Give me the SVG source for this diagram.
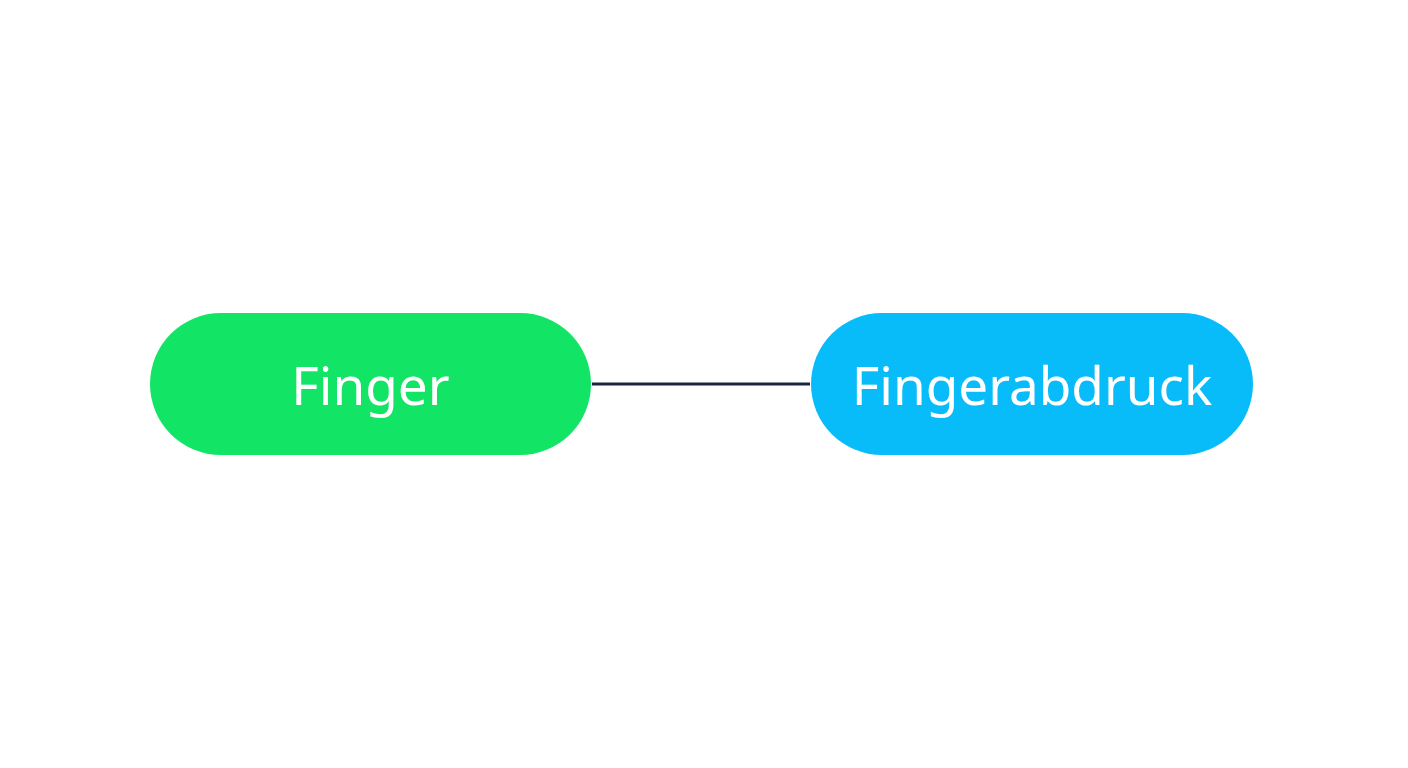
<svg xmlns="http://www.w3.org/2000/svg" width="1408" height="768" viewBox="0 0 1408 768">
<style>
.lbl{font-family:"Noto Sans","Open Sans",sans-serif;font-size:53px;fill:#ffffff;text-anchor:middle;dominant-baseline:central}
.conn{stroke:#1c2640;stroke-width:3;fill:none}
</style>
<rect width="1408" height="768" fill="#ffffff"/>
<g id="connectors">
<line class="conn" x1="592" y1="384" x2="810" y2="384"/>
</g>
<g id="node-finger">
<rect x="150" y="313" width="441" height="142" rx="71" fill="#12e465"/>
<text class="lbl" x="370.5" y="384">Finger</text>
</g>
<g id="node-fingerabdruck">
<rect x="811" y="313" width="442" height="142" rx="71" fill="#08bcfa"/>
<text class="lbl" x="1032" y="384">Fingerabdruck</text>
</g>
</svg>
